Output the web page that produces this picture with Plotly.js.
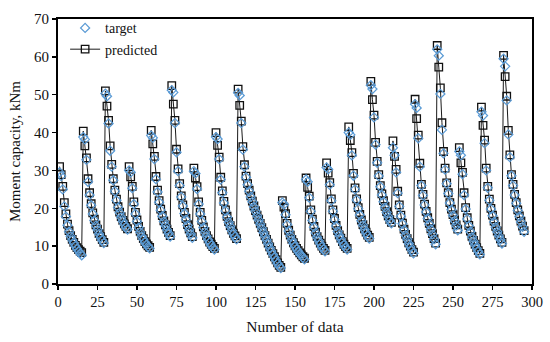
<!DOCTYPE html>
<html>
<head>
<meta charset="utf-8">
<script src="https://cdn.plot.ly/plotly-3.0.1.min.js"></script>
<style>html,body{margin:0;padding:0;background:#fff;}#chart{width:550px;height:342px;}</style>
</head>
<body>
<div id="chart"></div>
<script>
// Moment capacity (kNm) per data number
const predicted = [
  31, 28.9, 25.8, 21.5, 18.5, 15.8, 14.1, 12.8, 11.8, 11, 10.2, 9.6, 9.1, 8.7, 8.3,
  40.4, 36.5, 33.3, 27.8, 24.1, 21.2, 18.8, 17.1, 15.6, 14.5, 13.3, 12.5, 11.7, 11.0,
  51, 47, 43.2, 36.5, 31.6, 27.8, 24.8, 22.4, 20.4, 19, 17.8, 16.8, 15.9, 15.2, 14.6,
  31, 28.3, 25.8, 21.7, 18.9, 16.9, 15.2, 13.9, 12.8, 12, 11.2, 10.6, 10.1, 9.7,
  40.6, 37, 33.7, 28.4, 24.8, 22, 19.8, 18.1, 16.7, 15.6, 14.5, 13.6, 12.8,
  52.4, 47.5, 43.2, 35.6, 30.4, 26.5, 23.3, 20.9, 18.9, 17.3, 15.7, 14.5, 13.5, 12.5,
  30.6, 28, 25.7, 21.7, 18.9, 16.8, 15.1, 13.9, 12.8, 11.9, 11.1, 10.5, 9.9, 9.4,
  40, 36.6, 33.5, 28.2, 24.6, 21.8, 19.6, 17.9, 16.5, 15.4, 14.3, 13.4, 12.7, 12.0,
  51.5, 47.2, 43, 36.3, 31.5, 28.5, 26.5, 24.8, 23.3, 21.9, 20.6, 19.4, 18.2, 17.1,
  16, 14.9, 13.8, 12.8, 11.8, 10.8, 9.8, 8.9, 8, 7.2, 6.4, 5.6, 4.9, 4.4,
  22, 20.3, 18.6, 16, 14.2, 12.9, 11.8, 10.9, 10.1, 9.4, 8.8, 8.2, 7.7, 7.2, 6.8,
  28, 25.5, 23.2, 19.6, 17.1, 15.2, 13.7, 12.5, 11.6, 10.8, 10.0, 9.4, 8.9,
  32, 29.3, 26.8, 22.5, 19.6, 17.3, 15.5, 14.1, 13, 12.1, 11.2, 10.5, 9.9, 9.4,
  41.5, 37.9, 34.7, 29.2, 25.4, 22.5, 20.2, 18.4, 16.9, 15.7, 14.6, 13.7, 12.9, 12.3,
  53.5, 48.7, 44.6, 37.4, 32.4, 28.9, 26, 23.8, 22, 20.5, 19.1, 18, 17, 16.3,
  37.8, 33.7, 30.3, 24.5, 20.9, 18.2, 16.1, 14.5, 13.1, 12, 10.9, 10, 9.1, 8.4,
  48.8, 43.7, 39.3, 31.9, 26.3, 23.7, 21.1, 19.2, 17.5, 16, 14.6, 13.3, 12, 10.8,
  63, 57.3, 51.8, 42.6, 35, 30.6, 26.7, 24.1, 21.5, 19.8, 18.3, 16.9, 15.6, 14.5,
  36, 32, 29.5, 24.1, 20.2, 17.5, 15.5, 14, 12.6, 11.5, 10.5, 9.6, 8.8, 8.1,
  46.7, 41.9, 38, 30.6, 25.8, 22.4, 20, 18.2, 16.6, 15.2, 14, 12.9, 11.9, 11,
  60.4, 54.8, 49.6, 40.6, 34.1, 28.9, 26.3, 23.7, 21.5, 19.6, 18, 16.6, 15.3, 14.1
];
const target = [
  29.5, 28.5, 25, 20.5, 17.8, 15.5, 13.8, 12.6, 11.6, 10.8, 10, 9.3, 8.7, 8.1, 7.6,
  38.8, 38.2, 32.8, 27, 23.5, 20.8, 18.5, 16.8, 15.4, 14.3, 13.2, 12.3, 11.5, 10.8,
  50.3, 49.6, 42.4, 35.2, 31, 27.4, 24.5, 22.1, 20.2, 18.8, 17.6, 16.6, 15.7, 15, 14.4,
  30, 29.5, 25.3, 21.1, 18.5, 16.5, 14.9, 13.7, 12.6, 11.8, 11, 10.4, 9.9, 9.4,
  39.2, 38.6, 33, 27.7, 24.3, 21.6, 19.5, 17.9, 16.5, 15.4, 14.3, 13.4, 12.5,
  51.2, 50.6, 42.5, 34.8, 29.8, 26, 23, 20.6, 18.6, 17, 15.5, 14.3, 13.2, 12.2,
  29.8, 29.2, 25.1, 21.1, 18.5, 16.5, 14.9, 13.7, 12.6, 11.7, 10.9, 10.2, 9.6, 9.1,
  38.8, 38.3, 33, 27.6, 24.1, 21.4, 19.3, 17.6, 16.3, 15.2, 14.1, 13.2, 12.5, 11.8,
  50.5, 49.8, 42.5, 35.5, 31, 28.2, 26.2, 24.5, 23, 21.7, 20.4, 19.2, 18, 16.9,
  15.8, 14.7, 13.6, 12.6, 11.6, 10.6, 9.6, 8.7, 7.8, 7, 6.2, 5.4, 4.7, 4.2,
  21.5, 21, 18.3, 15.7, 14, 12.7, 11.6, 10.7, 9.9, 9.2, 8.6, 8, 7.5, 7, 6.5,
  27.6, 27, 22.8, 19.2, 16.8, 15, 13.5, 12.3, 11.4, 10.6, 9.8, 9.2, 8.6,
  30.8, 30.3, 26.2, 22, 19.2, 17, 15.3, 13.9, 12.8, 11.9, 11, 10.3, 9.7, 9.1,
  40, 39.4, 34, 28.6, 25, 22.2, 19.9, 18.2, 16.7, 15.5, 14.4, 13.5, 12.7, 12,
  52.5, 51.5, 44, 36.8, 32, 28.5, 25.7, 23.5, 21.7, 20.2, 18.9, 17.8, 16.8, 16,
  36, 34, 29.5, 24, 20.5, 17.9, 15.9, 14.3, 12.9, 11.8, 10.7, 9.8, 8.9, 8.1,
  47.5, 46.5, 38.5, 31, 26, 23.4, 20.9, 19, 17.3, 15.8, 14.4, 13.1, 11.8, 10.5,
  62, 60.3, 50.2, 40.7, 34.5, 30.2, 26.5, 23.9, 21.4, 19.6, 18.1, 16.7, 15.4, 14.2,
  35, 34, 29, 23.5, 19.8, 17.2, 15.3, 13.8, 12.4, 11.3, 10.3, 9.4, 8.6, 7.8,
  45.5, 44.5, 37.2, 30, 25.4, 22.1, 19.8, 18, 16.4, 15, 13.8, 12.7, 11.7, 10.7,
  59.5, 57.5, 48.5, 39.5, 33.5, 28.6, 26, 23.5, 21.3, 19.4, 17.8, 16.4, 15.1, 13.8
];
const dataNumber = predicted.map((_, i) => i + 1);
const xTicks = [0, 25, 50, 75, 100, 125, 150, 175, 200, 225, 250, 275, 300];
const yTicks = [0, 10, 20, 30, 40, 50, 60, 70];

const serif = '"Liberation Serif", "Times New Roman", serif';

const traces = [
  {
    x: dataNumber, y: predicted, name: 'predicted', type: 'scatter', mode: 'lines+markers',
    line: {color: '#1a1a1a', width: 1},
    marker: {symbol: 'square-open', size: 7.5, color: '#111', line: {width: 1.3, color: '#111'}}
  },
  {
    x: dataNumber, y: target, name: 'target', type: 'scatter', mode: 'markers',
    marker: {symbol: 'diamond-open', size: 7, color: '#5b9bd5', line: {width: 1.2, color: '#5b9bd5'}}
  }
];

const layout = {
  width: 550, height: 342,
  margin: {l: 58, r: 18, t: 15, b: 58},
  paper_bgcolor: '#fff', plot_bgcolor: '#fff',
  font: {family: serif, size: 14, color: '#111'},
  showlegend: true,
  legend: {x: 0.015, y: 1.025, xanchor: 'left', yanchor: 'top', traceorder: 'reversed',
           bgcolor: 'rgba(0,0,0,0)', font: {family: serif, size: 14, color: '#111'},
           tracegroupgap: 0, itemwidth: 30},
  xaxis: {
    range: [0, 300], tickvals: xTicks, ticktext: xTicks.map(String),
    showgrid: false, zeroline: false, showline: true, mirror: true,
    linecolor: '#000', linewidth: 2, ticks: 'outside', ticklen: 4, tickwidth: 1.5, tickcolor: '#000',
    tickfont: {family: serif, size: 14.5, color: '#111'},
    title: {text: 'Number of data', font: {family: serif, size: 15.5, color: '#111'}, standoff: 12}
  },
  yaxis: {
    range: [0, 70], tickvals: yTicks, ticktext: yTicks.map(String),
    showgrid: false, zeroline: false, showline: true, mirror: true,
    linecolor: '#000', linewidth: 2, ticks: 'outside', ticklen: 4, tickwidth: 1.5, tickcolor: '#000',
    tickfont: {family: serif, size: 15, color: '#111'},
    title: {text: 'Moment capacity, kNm', font: {family: serif, size: 15, color: '#111'}, standoff: 10}
  }
};

Plotly.newPlot('chart', traces, layout, {displayModeBar: false, staticPlot: true});
</script>
</body>
</html>
